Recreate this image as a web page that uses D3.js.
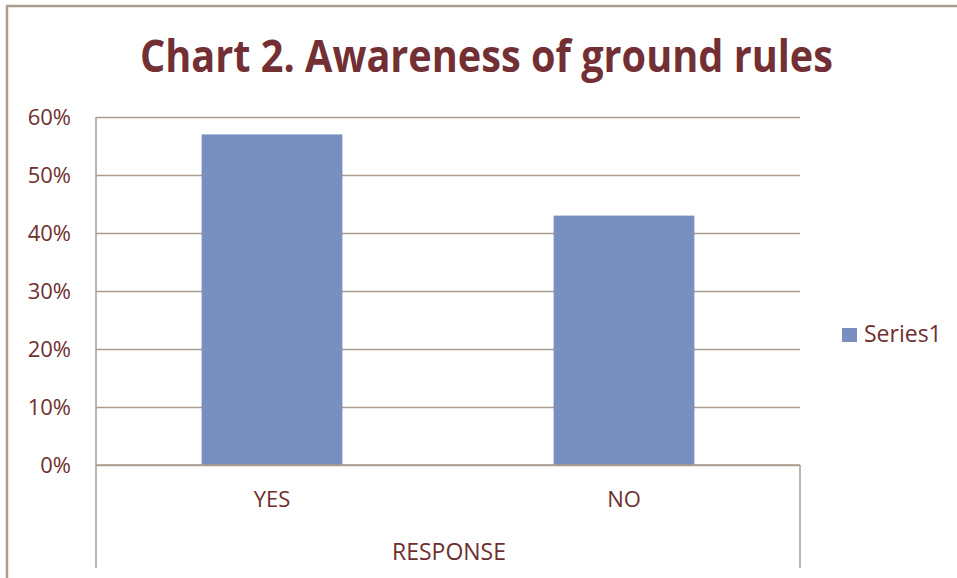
<!DOCTYPE html>
<html>
<head>
<meta charset="utf-8">
<script src="https://cdn.jsdelivr.net/npm/d3@7"></script>
<style>
  html, body { margin: 0; padding: 0; background: #fff; }
  #chart { width: 957px; height: 578px; }
  text { font-family: "Open Sans", "Noto Sans", sans-serif; fill: #6e2f2f; }
</style>
</head>
<body>
<div id="chart"></div>
<script>
// data
const categories = ['YES', 'NO'];
const values = [0.57, 0.43];
const yTicks = [0, 0.1, 0.2, 0.3, 0.4, 0.5, 0.6];
const seriesName = 'Series1';
const title = 'Chart 2. Awareness of ground rules';
const xTitle = 'RESPONSE';

const width = 957;
const height = 578;
const plot = { left: 96, right: 800, top: 117, bottom: 465, axisBottom: 568 };
const lineColor = '#ab9d8e';
const barColor = '#788fc0';

const svg = d3.select('#chart')
  .append('svg')
  .attr('width', width)
  .attr('height', height);

// outer chart frame (only top + left visible in the picture)
svg.append('path')
  .attr('fill', 'none')
  .attr('stroke', lineColor)
  .attr('stroke-width', 2.5)
  .attr('d', `M7,${height} V6 H${width}`);

// title
svg.append('text')
  .attr('x', 140)
  .attr('y', 72)
  .attr('textLength', 693)
  .attr('lengthAdjust', 'spacingAndGlyphs')
  .style('font-size', '44px')
  .style('font-weight', 'bold')
  .style('fill', '#722f34')
  .text(title);

// scales
const x = d3.scaleBand()
  .domain(categories)
  .range([plot.left, plot.right])
  .paddingInner(0.6)
  .paddingOuter(0.3);

const y = d3.scaleLinear()
  .domain([0, 0.6])
  .range([plot.bottom, plot.top]);

// y axis with gridlines
const yAxis = svg.append('g')
  .attr('class', 'axis axis-y')
  .attr('transform', `translate(${plot.left},0)`)
  .call(d3.axisLeft(y)
    .tickValues(yTicks)
    .tickFormat(d3.format('.0%'))
    .tickSize(-(plot.right - plot.left))
    .tickPadding(25));

yAxis.select('.domain').remove();
yAxis.selectAll('.tick line')
  .attr('stroke', lineColor)
  .attr('stroke-width', 1.5);
yAxis.selectAll('.tick text')
  .style('font-size', '22px')
  .attr('dy', '0.36em');

// category area side lines
svg.append('g')
  .attr('class', 'frame')
  .selectAll('line')
  .data([
    [plot.left, plot.top, plot.axisBottom],
    [plot.right, plot.bottom, plot.axisBottom],
  ])
  .join('line')
  .attr('x1', (d) => d[0])
  .attr('x2', (d) => d[0])
  .attr('y1', (d) => d[1])
  .attr('y2', (d) => d[2])
  .attr('stroke', lineColor)
  .attr('stroke-width', 1.5);

// bars
svg.append('g')
  .attr('class', 'bars')
  .selectAll('rect')
  .data(categories.map((c, i) => ({ c, v: values[i] })))
  .join('rect')
  .attr('x', (d) => x(d.c))
  .attr('width', x.bandwidth())
  .attr('y', (d) => y(d.v))
  .attr('height', (d) => y(0) - y(d.v))
  .attr('fill', barColor);

// redraw the baseline over the bars
svg.append('line')
  .attr('x1', plot.left)
  .attr('x2', plot.right)
  .attr('y1', y(0))
  .attr('y2', y(0))
  .attr('stroke', lineColor)
  .attr('stroke-width', 1.5);

// category labels
svg.append('g')
  .attr('class', 'axis axis-x')
  .selectAll('text')
  .data(categories)
  .join('text')
  .attr('x', (d) => x(d) + x.bandwidth() / 2)
  .attr('y', 507)
  .attr('text-anchor', 'middle')
  .style('font-size', '22px')
  .text((d) => d);

svg.append('text')
  .attr('x', 449)
  .attr('y', 560)
  .attr('text-anchor', 'middle')
  .style('font-size', '23px')
  .text(xTitle);

// legend
const legend = svg.append('g')
  .attr('class', 'legend')
  .attr('transform', 'translate(842,328)');

legend.append('rect')
  .attr('width', 15)
  .attr('height', 14)
  .attr('fill', barColor);

legend.append('text')
  .attr('x', 22)
  .attr('y', 14)
  .style('font-size', '23px')
  .text(seriesName);
</script>
</body>
</html>
